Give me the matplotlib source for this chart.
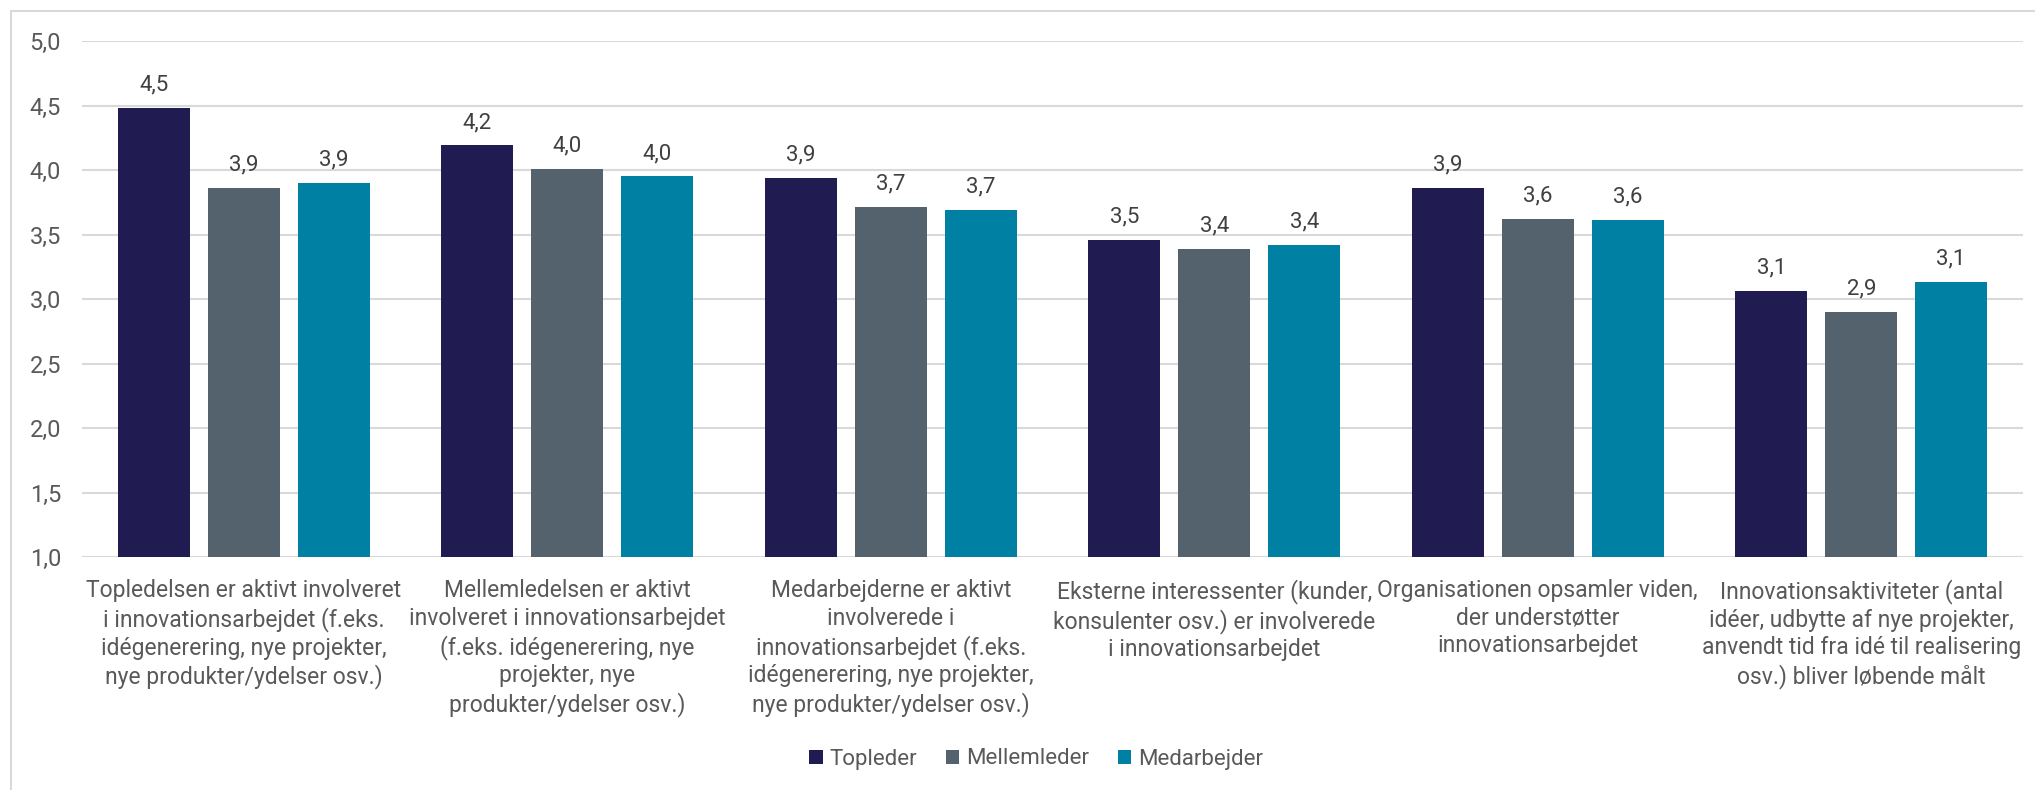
import matplotlib
matplotlib.use("Agg")
import matplotlib.pyplot as plt
import numpy as np
from matplotlib.patches import Rectangle

plt.rcParams["font.family"] = ["Liberation Sans Narrow", "Roboto", "DejaVu Sans"]
num_font = ["Roboto", "DejaVu Sans"]

categories = [
    "Topledelsen er aktivt involveret\ni innovationsarbejdet (f.eks.\nidégenerering, nye projekter,\nnye produkter/ydelser osv.)",
    "Mellemledelsen er aktivt\ninvolveret i innovationsarbejdet\n(f.eks. idégenerering, nye\nprojekter, nye\nprodukter/ydelser osv.)",
    "Medarbejderne er aktivt\ninvolverede i\ninnovationsarbejdet (f.eks.\nidégenerering, nye projekter,\nnye produkter/ydelser osv.)",
    "Eksterne interessenter (kunder,\nkonsulenter osv.) er involverede\ni innovationsarbejdet",
    "Organisationen opsamler viden,\nder understøtter\ninnovationsarbejdet",
    "Innovationsaktiviteter (antal\nidéer, udbytte af nye projekter,\nanvendt tid fra idé til realisering\nosv.) bliver løbende målt",
]
topleder = [4.48, 4.19, 3.94, 3.46, 3.86, 3.06]
mellemleder = [3.86, 4.01, 3.71, 3.39, 3.62, 2.90]
medarbejder = [3.90, 3.95, 3.69, 3.42, 3.61, 3.13]
series_names = ["Topleder", "Mellemleder", "Medarbejder"]
colors = ["#201b50", "#54626e", "#0080a3"]
text_color = "#595959"

W, H = 2035, 790
fig = plt.figure(figsize=(W / 100, H / 100), dpi=100)
ax = fig.add_axes([82 / W, (H - 557) / H, (2023 - 82) / W, (557 - 41) / H])

# outer frame (only top and left edges are inside the image)
fig.patches.append(Rectangle((11 / W, -0.1), 1.2, (H - 11) / H + 0.1,
                             transform=fig.transFigure, fill=False,
                             edgecolor="#d9d9d9", linewidth=1.5))

x = np.arange(len(categories))
width = 0.2226
step = 0.278
for i, (name, vals, c) in enumerate(zip(series_names, [topleder, mellemleder, medarbejder], colors)):
    pos = x + (i - 1) * step
    ax.bar(pos, np.array(vals) - 1.0, width, bottom=1.0, color=c, label=name, zorder=3)
    for p, v in zip(pos, vals):
        ax.annotate(f"{v:.1f}".replace(".", ","), (p, v), xytext=(0, 9),
                    textcoords="offset points", ha="center", va="bottom",
                    fontsize=16, color="#404040", family=num_font)

yt = np.arange(1.0, 5.01, 0.5)
ax.set_ylim(1.0, 5.0)
ax.set_xlim(-0.5, len(categories) - 0.5)
ax.set_yticks(yt)
ax.set_yticklabels([f"{t:.1f}".replace(".", ",") for t in yt], family=num_font)
ax.yaxis.grid(True, color="#d9d9d9", linewidth=1.5, zorder=0)
ax.set_axisbelow(True)
for s in ax.spines.values():
    s.set_visible(False)
ax.tick_params(axis="y", length=0, labelsize=17, labelcolor=text_color, pad=15)
ax.tick_params(axis="x", length=0, labelsize=16.5, labelcolor=text_color, pad=16)
ax.set_xticks(x)
ax.set_xticklabels(categories, linespacing=1.25, va="top", ha="center")

fig.legend(loc="center", bbox_to_anchor=(1036 / W, (H - 759) / H), ncol=3,
           frameon=False, fontsize=16, labelcolor=text_color,
           handlelength=0.6, handleheight=0.6, handletextpad=0.3, columnspacing=1.3)

fig.savefig("out.png", dpi=100, facecolor="white")
